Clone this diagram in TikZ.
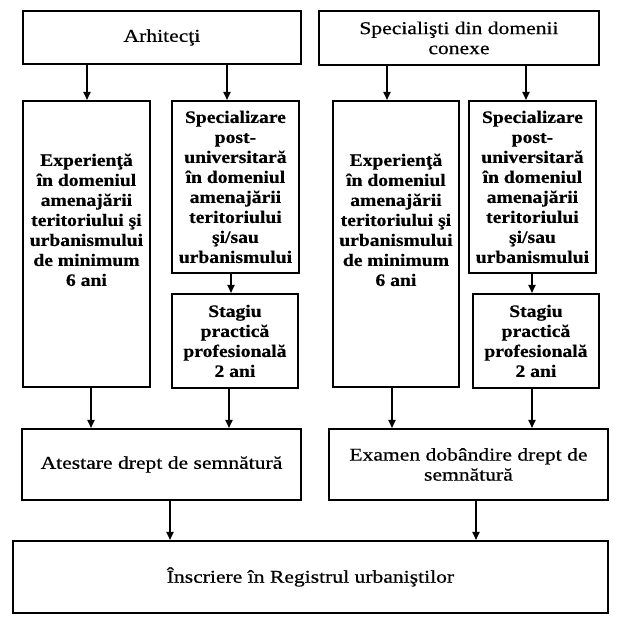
\documentclass[tikz,border=0pt]{standalone}
\usepackage{fontspec}
\setmainfont{Liberation Serif}[FakeStretch=1.2,FakeBold=0.6]
\newfontfamily\bfam{Liberation Serif}[FakeStretch=1.12,FakeBold=0.5]
\usetikzlibrary{arrows.meta}
\newcommand\toptext[3]{\begin{minipage}[t][#1][t]{#2}\centering\vspace*{51pt}\strut #3\end{minipage}}
\begin{document}
\lineskiplimit=-20pt
\begin{tikzpicture}[x=1pt,y=-1pt,
  box/.style={draw, line width=1.9pt, inner sep=0pt, anchor=north west, align=center, font=\fontsize{18}{20}\selectfont},
  bbox/.style={box, font=\bfam\bfseries\fontsize{17.5}{20}\selectfont},
  arr/.style={line width=1.7pt, -{Triangle[length=8pt,width=7pt]}}]
\fill[white] (0,0) rectangle (625,620);
\useasboundingbox (0,0) rectangle (625,620);
% top row
\node[box, minimum width=278pt, minimum height=53pt] (arh) at (22,10) {Arhitecţi};
\node[box, minimum width=280pt, minimum height=54pt] (spc) at (318,10) {Specialişti din domenii\\conexe};
% left column
\node[bbox, minimum width=127pt, minimum height=286pt] (exL) at (22,100)
  {\toptext{286pt}{127pt}{Experienţă\\în domeniul\\amenajării\\teritoriului şi\\urbanismului\\de minimum\\6 ani}};
\node[bbox, minimum width=127pt, minimum height=172pt] (spL) at (171,100)
  {Specializare\\post-\\universitară\\în domeniul\\amenajării\\teritoriului\\şi/sau\\urbanismului};
\node[bbox, minimum width=126pt, minimum height=94pt] (stL) at (171,293)
  {Stagiu\\practică\\profesională\\2 ani};
% right column
\node[bbox, minimum width=126pt, minimum height=286pt] (exR) at (332,100)
  {\toptext{286pt}{126pt}{Experienţă\\în domeniul\\amenajării\\teritoriului şi\\urbanismului\\de minimum\\6 ani}};
\node[bbox, minimum width=127pt, minimum height=172pt] (spR) at (468,100)
  {Specializare\\post-\\universitară\\în domeniul\\amenajării\\teritoriului\\şi/sau\\urbanismului};
\node[bbox, minimum width=126pt, minimum height=94pt] (stR) at (472,293)
  {Stagiu\\practică\\profesională\\2 ani};
% lower row
\node[box, minimum width=279pt, minimum height=71pt] (ate) at (21,428) {Atestare drept de semnătură};
\node[box, minimum width=279pt, minimum height=71pt] (exa) at (328,428) {Examen dobândire drept de\\semnătură};
\node[box, minimum width=595pt, minimum height=72pt] (ins) at (12,540) {Înscriere în Registrul urbaniştilor};
% arrow x positions
\coordinate (a1) at (87,0);
\coordinate (a2) at (227,0);
\coordinate (a3) at (231,0);
\coordinate (a4) at (91,0);
\coordinate (a5) at (229,0);
\coordinate (a6) at (170,0);
\coordinate (b1) at (387,0);
\coordinate (b2) at (526,0);
\coordinate (b3) at (532,0);
\coordinate (b4) at (392,0);
\coordinate (b5) at (532,0);
\coordinate (b6) at (476,0);
% arrows
\draw[arr] (arh.south -| a1) -- (exL.north -| a1);
\draw[arr] (arh.south -| a2) -- (spL.north -| a2);
\draw[arr] (spL.south -| a3) -- (stL.north -| a3);
\draw[arr] (exL.south -| a4) -- (ate.north -| a4);
\draw[arr] (stL.south -| a5) -- (ate.north -| a5);
\draw[arr] (ate.south -| a6) -- (ins.north -| a6);
\draw[arr] (spc.south -| b1) -- (exR.north -| b1);
\draw[arr] (spc.south -| b2) -- (spR.north -| b2);
\draw[arr] (spR.south -| b3) -- (stR.north -| b3);
\draw[arr] (exR.south -| b4) -- (exa.north -| b4);
\draw[arr] (stR.south -| b5) -- (exa.north -| b5);
\draw[arr] (exa.south -| b6) -- (ins.north -| b6);
\end{tikzpicture}
\end{document}
